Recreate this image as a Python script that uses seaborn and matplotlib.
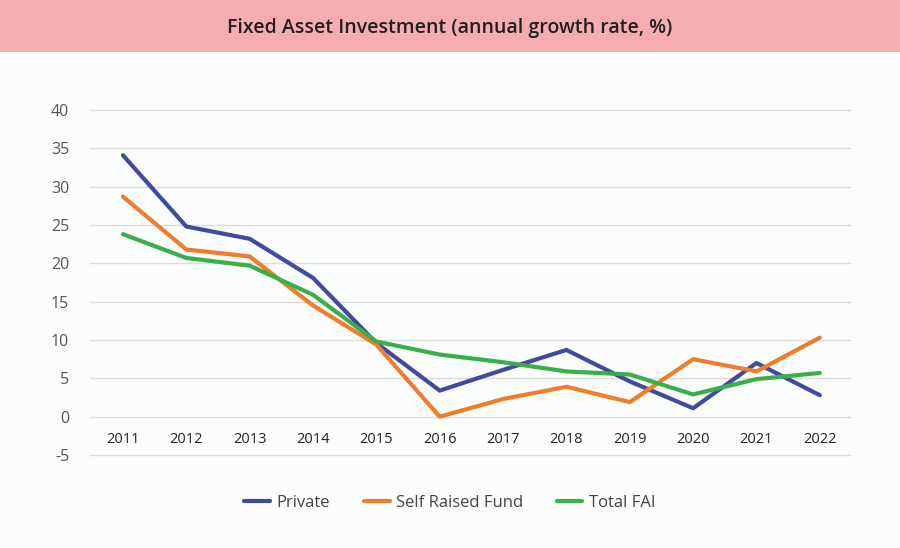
import matplotlib
matplotlib.use("Agg")
import matplotlib.pyplot as plt
import seaborn as sns
import pandas as pd

years = list(range(2011, 2023))
private = [34.1, 24.8, 23.2, 18.1, 9.6, 3.4, 6.1, 8.7, 4.6, 1.1, 7.0, 2.8]
self_raised = [28.7, 21.8, 20.9, 14.5, 9.4, 0.0, 2.3, 3.9, 1.9, 7.5, 5.9, 10.3]
total_fai = [23.8, 20.7, 19.7, 15.9, 9.8, 8.1, 7.1, 5.9, 5.5, 2.9, 4.9, 5.7]
series_names = ["Private", "Self Raised Fund", "Total FAI"]
colors = ["#3f4c9e", "#ef7d2c", "#3aaf49"]
y_ticks = [-5, 0, 5, 10, 15, 20, 25, 30, 35, 40]

df = pd.DataFrame({
    "year": years * 3,
    "value": private + self_raised + total_fai,
    "series": [series_names[0]] * 12 + [series_names[1]] * 12 + [series_names[2]] * 12,
})

sns.set_style("white")
plt.rcParams['font.family'] = ['Open Sans', 'DejaVu Sans']
plt.rcParams['axes.unicode_minus'] = False

fig = plt.figure(figsize=(9, 5.48), dpi=100)
fig.patch.set_facecolor("#fbfcfc")

# pink title band
fig.patches.append(plt.Rectangle((0, 0.905), 1, 0.095, transform=fig.transFigure,
                                 facecolor="#f5adaf", edgecolor="none", zorder=0))
fig.text(0.5, 0.949, "Fixed Asset Investment (annual growth rate, %)", ha="center", va="center",
         fontsize=14, fontweight="semibold", color="#231f20")

ax = fig.add_axes([0.1, 0.1697, 0.844, 0.6296])
ax.set_facecolor("none")
sns.lineplot(data=df, x="year", y="value", hue="series", palette=colors, linewidth=3,
             ax=ax, legend=False)

ax.set_xlim(2010.48, 2022.47)
ax.set_ylim(-5, 40)
ax.set_yticks(y_ticks)
ax.set_xticks(years)
ax.grid(axis="y", color="#dcdcdc", linewidth=1)
for gl in ax.get_ygridlines():
    gl.set_clip_on(False)
ax.set_axisbelow(True)
for s in ax.spines.values():
    s.set_visible(False)
ax.spines["bottom"].set_position(("data", 0))
ax.tick_params(axis="both", length=0)
ax.tick_params(axis="x", pad=11, labelsize=10.5, labelcolor="#222222")
ax.tick_params(axis="y", pad=15, labelsize=11.5, labelcolor="#555555")
ax.set_xlabel("")
ax.set_ylabel("")

handles = [plt.Line2D([0], [0], color=c, linewidth=3) for c in colors]
fig.legend(handles, series_names, loc="center", bbox_to_anchor=(0.5, 0.082), ncol=3,
           frameon=False, fontsize=12, handlelength=1.55, handletextpad=0.4,
           columnspacing=2.0, labelcolor="#444444")

fig.savefig("out.png", dpi=100, facecolor=fig.get_facecolor())
